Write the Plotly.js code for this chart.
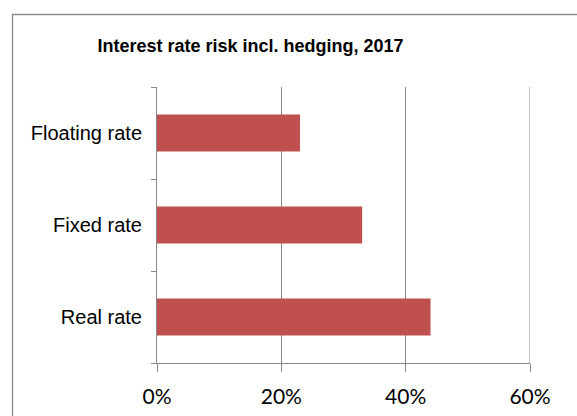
<!DOCTYPE html>
<html>
<head>
<meta charset="utf-8">
<script src="https://cdn.plot.ly/plotly-3.0.1.min.js"></script>
<style>html,body{margin:0;padding:0;background:#fff;}#chart{width:577px;height:416px;}</style>
</head>
<body>
<div id="chart"></div>
<script>
const categories = ['Real rate', 'Fixed rate', 'Floating rate'];
const values = [0.44, 0.33, 0.23];
const xTicks = [0, 0.2, 0.4, 0.6];
const xMax = 0.6;
const titleText = 'Interest rate risk incl. hedging, 2017';

const L = 157, R = 530, T = 87, B = 363, W = 577, H = 416;
const pw = R - L, ph = B - T;
const px = v => (v - L) / pw;
const py = v => (B - v) / ph;

const data = [{
  type: 'bar',
  orientation: 'h',
  x: values,
  y: categories,
  marker: {color: '#C0504D'},
  hoverinfo: 'none'
}];

const layout = {
  width: W, height: H,
  margin: {l: L, r: W - R, t: T, b: H - B, pad: 0},
  paper_bgcolor: '#fff', plot_bgcolor: '#fff',
  showlegend: false,
  bargap: 0.6,
  title: {
    text: '<b>' + titleText + '</b>',
    font: {family: 'Liberation Sans, Arial, sans-serif', size: 18, color: '#000'},
    xref: 'paper', x: px(250.5), xanchor: 'center',
    yref: 'container', y: 1 - 46 / H, yanchor: 'middle'
  },
  xaxis: {
    range: [0, xMax],
    tickvals: xTicks,
    tickformat: '.0%',
    showgrid: true, gridcolor: '#888', gridwidth: 1,
    zeroline: false,
    showline: true, linecolor: '#888', linewidth: 1,
    ticks: 'outside', ticklen: 8, tickcolor: '#888', tickwidth: 1,
    ticklabelstandoff: 7,
    tickfont: {family: 'Lato, sans-serif', size: 21, color: '#000'},
    fixedrange: true
  },
  yaxis: {
    type: 'category',
    range: [-0.5, 2.5],
    showgrid: false, zeroline: false,
    showline: true, linecolor: '#888', linewidth: 1,
    ticks: 'outside', ticklen: 5, tickcolor: '#888', tickwidth: 1,
    tickson: 'boundaries',
    ticklabelstandoff: 10,
    tickfont: {family: 'Liberation Sans, Arial, sans-serif', size: 20, color: '#000'},
    fixedrange: true
  },
  shapes: [{
    type: 'rect', xref: 'paper', yref: 'paper', layer: 'below',
    x0: px(12.5), x1: px(620), y0: py(460), y1: py(14.5),
    line: {color: '#8c8c8c', width: 1.3}, fillcolor: 'rgba(0,0,0,0)'
  }, {
    type: 'line', xref: 'x', yref: 'paper', layer: 'below',
    x0: xMax, x1: xMax, y0: 0, y1: 1,
    line: {color: '#888', width: 1}
  }]
};

Plotly.newPlot('chart', data, layout, {displayModeBar: false, staticPlot: true});
</script>
</body>
</html>
